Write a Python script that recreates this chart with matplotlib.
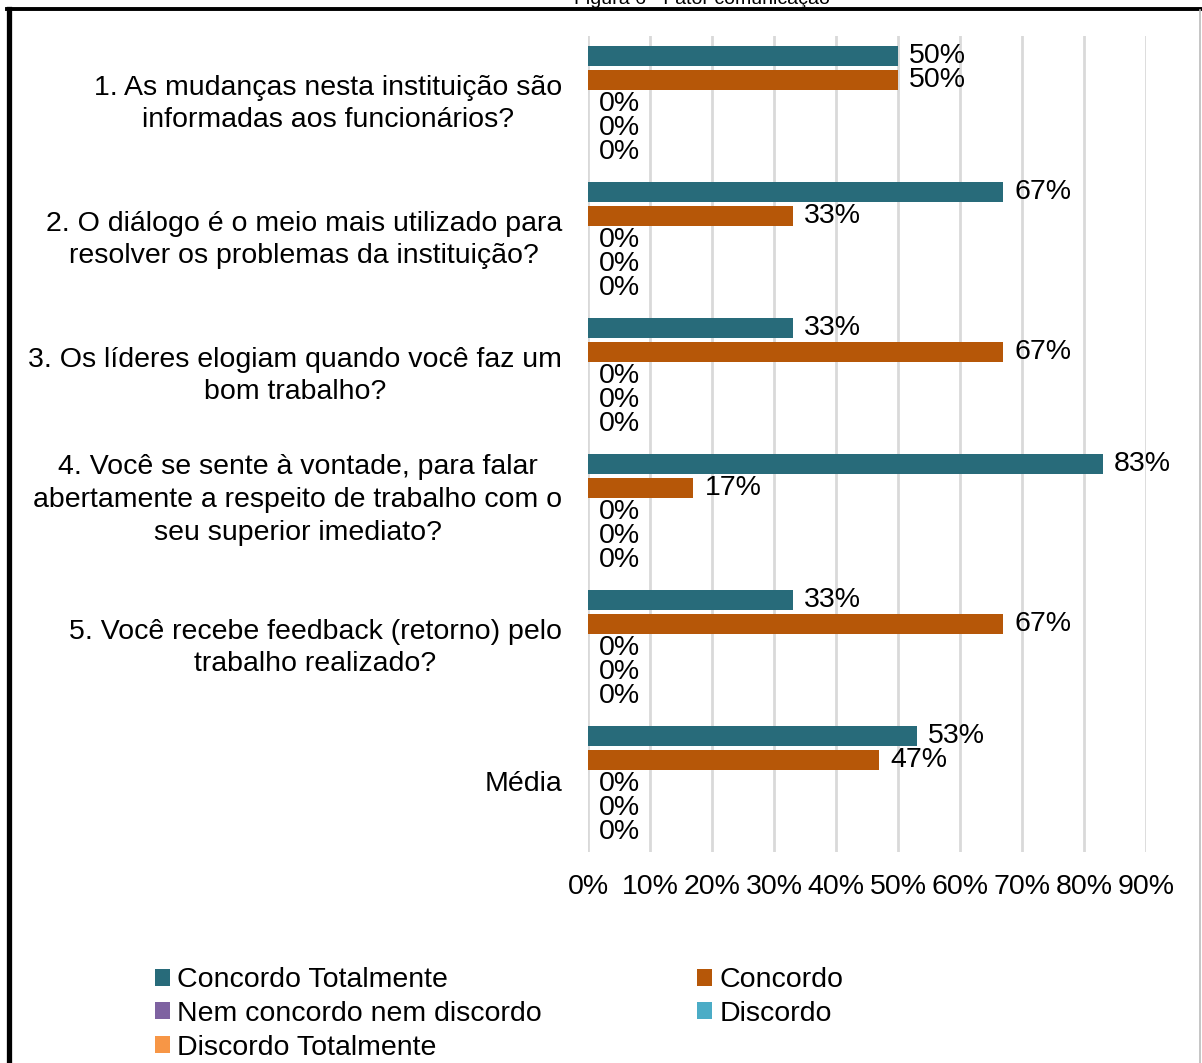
import numpy as np
import matplotlib.pyplot as plt
import matplotlib.transforms as mtransforms
from matplotlib.lines import Line2D

plt.rcParams['font.family'] = ['Liberation Sans', 'DejaVu Sans']

# perguntas do fator comunicação
perguntas = [
    "1. As mudanças nesta instituição são\ninformadas aos funcionários?",
    "2. O diálogo é o meio mais utilizado para\nresolver os problemas da instituição?",
    "3. Os líderes elogiam quando você faz um\nbom trabalho?",
    "4. Você se sente à vontade, para falar\nabertamente a respeito de trabalho com o\nseu superior imediato?",
    "5. Você recebe feedback (retorno) pelo\ntrabalho realizado?",
    "Média",
]

respostas = ["Concordo Totalmente", "Concordo", "Nem concordo nem discordo",
             "Discordo", "Discordo Totalmente"]
cores = ["#286B7A", "#B65708", "#7E62A1", "#4BACC6", "#F79646"]

concordo_tot = [0.50, 0.67, 0.33, 0.83, 0.33, 0.53]
concordo = [0.50, 0.33, 0.67, 0.17, 0.67, 0.47]
nem_nem = [0, 0, 0, 0, 0, 0]
discordo = [0, 0, 0, 0, 0, 0]
discordo_tot = [0, 0, 0, 0, 0, 0]
series = [concordo_tot, concordo, nem_nem, discordo, discordo_tot]

eixo_x = [0, 0.1, 0.2, 0.3, 0.4, 0.5, 0.6, 0.7, 0.8, 0.9]

FS = 20.5

fig = plt.figure(figsize=(12.02, 10.63), dpi=100)
ax = fig.add_axes([588/1202, 1-852/1063, (1146-588)/1202, (852-36)/1063])

passo = 24/136
altura = 20/136
y = np.arange(len(perguntas))
for j, (vals, cor, nome) in enumerate(zip(series, cores, respostas)):
    barras = ax.barh(y + (j - 2)*passo, vals, height=altura, color=cor, label=nome, zorder=3)
    ax.bar_label(barras, labels=[f"{v:.0%}" for v in vals], padding=8, fontsize=FS)

ax.set_ylim(len(perguntas) - 0.5, -0.5)
ax.set_xlim(0, 0.9)
ax.set_xticks(eixo_x)
ax.set_xticklabels([f"{v:.0%}" for v in eixo_x], fontsize=FS)
ax.set_yticks(y)
ax.set_yticklabels([])
ax.tick_params(axis='both', length=0)
ax.tick_params(axis='x', pad=16)
ax.grid(axis='x', color='#D9D9D9', linewidth=2, zorder=0)
for s in ax.spines.values():
    s.set_visible(False)

# rótulos das perguntas, à esquerda do eixo
for i, txt in enumerate(perguntas):
    dy = 12 if txt.count("\n") == 2 else 0
    tr = mtransforms.offset_copy(ax.get_yaxis_transform(), fig=fig, x=-26, y=dy, units='dots')
    ax.text(0, i, txt, transform=tr, ha='right', va='center', multialignment='center',
            fontsize=FS, linespacing=1.33)

# legenda em duas colunas, preenchida por linhas
ordem = [0, 2, 4, 1, 3]
h, l = ax.get_legend_handles_labels()
fig.legend([h[i] for i in ordem], [l[i] for i in ordem], ncol=2,
           loc='upper left', bbox_to_anchor=(141/1202, 1-953/1063),
           frameon=False, fontsize=FS, handlelength=0.53, handleheight=0.53,
           handletextpad=0.25, columnspacing=5.45, labelspacing=0.27, borderpad=0)

# moldura e título
fig.add_artist(Line2D([9/1202, 9/1202], [0, 1-9/1063], color='black', linewidth=3.8, transform=fig.transFigure))
fig.add_artist(Line2D([7/1202, 1], [1-9/1063, 1-9/1063], color='black', linewidth=2.8, transform=fig.transFigure))
fig.add_artist(Line2D([1199.5/1202, 1199.5/1202], [0, 1-10/1063], color='#BBBBBB', linewidth=1.2, transform=fig.transFigure))
fig.text(702/1202, 1-4.5/1063, "Figura 6 - Fator comunicação", ha='center', va='baseline', fontsize=14)

fig.savefig("out.png", dpi=100)
